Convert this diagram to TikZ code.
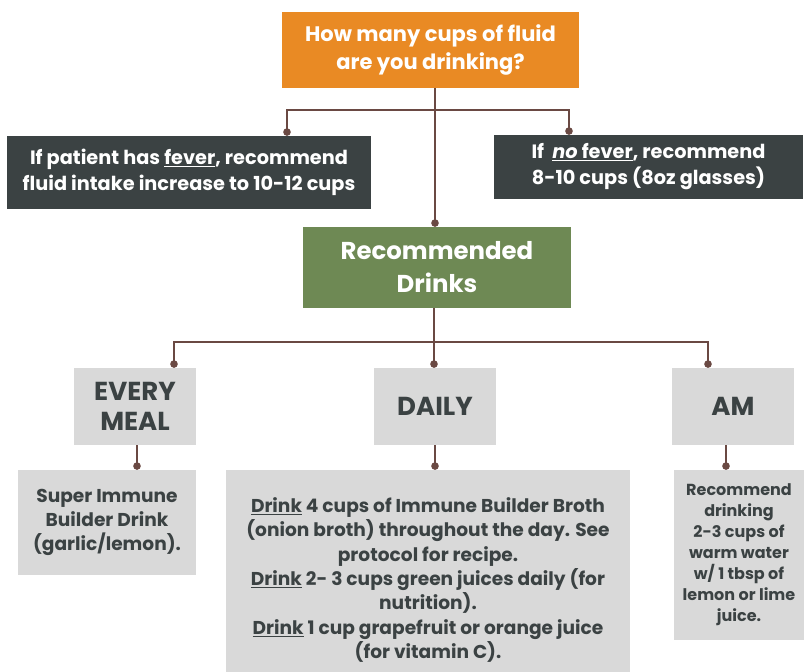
\documentclass[tikz,border=0pt]{standalone}
\usepackage{fontspec}
\setmainfont{Poppins}
\usetikzlibrary{arrows.meta}

\definecolor{askorange}{HTML}{E98A24}
\definecolor{slate}{HTML}{3B4243}
\definecolor{sage}{HTML}{6E8954}
\definecolor{mist}{HTML}{D9D9D9}
\definecolor{cocoa}{HTML}{6A4943}

\tikzset{
  box/.style={rectangle, inner sep=0pt, align=center},
  askbox/.style={box, fill=askorange, text=white, font=\bfseries\fontsize{21}{28}\selectfont},
  advice/.style={box, fill=slate, text=white, font=\bfseries\fontsize{19.3}{26}\selectfont},
  recbox/.style={box, fill=sage, text=white, font=\bfseries\fontsize{24.4}{33}\selectfont},
  timebox/.style={box, fill=mist, text=slate, font=\bfseries\fontsize{26}{30}\selectfont,
    minimum width=122, minimum height=77},
  detail/.style={box, fill=mist, text=slate, font=\bfseries\fontsize{18.6}{24.4}\selectfont},
  link/.style={draw=cocoa, line width=1.6pt, -{Circle[length=7.5pt]}}
}

\begin{document}
\begin{tikzpicture}[x=1pt, y=-1pt]
  \useasboundingbox (0,0) rectangle (804,672);

  % question and fever advice
  \node[askbox, minimum width=297, minimum height=76] (ask) at (430.5,50)
    {How many cups of fluid\\are you drinking?};
  \node[advice, minimum width=364, minimum height=73] (fever) at (189,172.5)
    {If patient has \underline{fever}, recommend\\fluid intake increase to 10-12 cups};
  \node[advice, minimum width=309, minimum height=64] (nofever) at (648.5,167)
    {If \ \underline{\textit{no} fever}, recommend\\8-10 cups (8oz glasses)};
  \node[recbox, minimum width=268, minimum height=81] (rec) at (437,267.5)
    {Recommended\\Drinks};

  % when to drink
  \node[timebox] (meal) at (135,406.5) {EVERY\\MEAL};
  \node[timebox] (daily) at (435,406.5) {DAILY};
  \node[timebox] (am) at (733,406.5) {AM};

  % what to drink
  \node[detail, minimum width=178, minimum height=105] (mealnote) at (107,522.5)
    {Super Immune\\Builder Drink\\(garlic/lemon).};
  \node[detail, minimum width=404, minimum height=220] (dailynote) at (428,580)
    {\underline{Drink} 4 cups of Immune Builder Broth\\
     (onion broth) throughout the day. See\\
     protocol for recipe.\\
     \underline{Drink} 2- 3 cups green juices daily (for\\
     nutrition).\\
     \underline{Drink} 1 cup grapefruit or orange juice\\
     (for vitamin C).};
  \node[detail, font=\bfseries\fontsize{16}{21}\selectfont, minimum width=130, minimum height=170]
    (amnote) at (739,555)
    {Recommend\\drinking\\2-3 cups of\\warm water\\w/ 1 tbsp of\\lemon or lime\\juice.};

  % connectors
  \coordinate (topsplit) at (435,110);
  \coordinate (lowsplit) at (434,342);
  \draw[link] (ask.south -| topsplit) -- (rec.north -| topsplit);
  \draw[link] (topsplit) -| ([xshift=98]fever.north);
  \draw[link] (topsplit) -| ([xshift=-79.5]nofever.north);
  \draw[link] (rec.south -| lowsplit) -- (daily.north -| lowsplit);
  \draw[link] (lowsplit) -| ([xshift=39]meal.north);
  \draw[link] (lowsplit) -| ([xshift=-25]am.north);
  \draw[link] ([xshift=2]meal.south) -- ([xshift=2]meal.south |- mealnote.north);
  \draw[link] (daily.south) -- (daily.south |- dailynote.north);
  \draw[link] ([xshift=-7]am.south) -- ([xshift=-7]am.south |- amnote.north);
\end{tikzpicture}
\end{document}
